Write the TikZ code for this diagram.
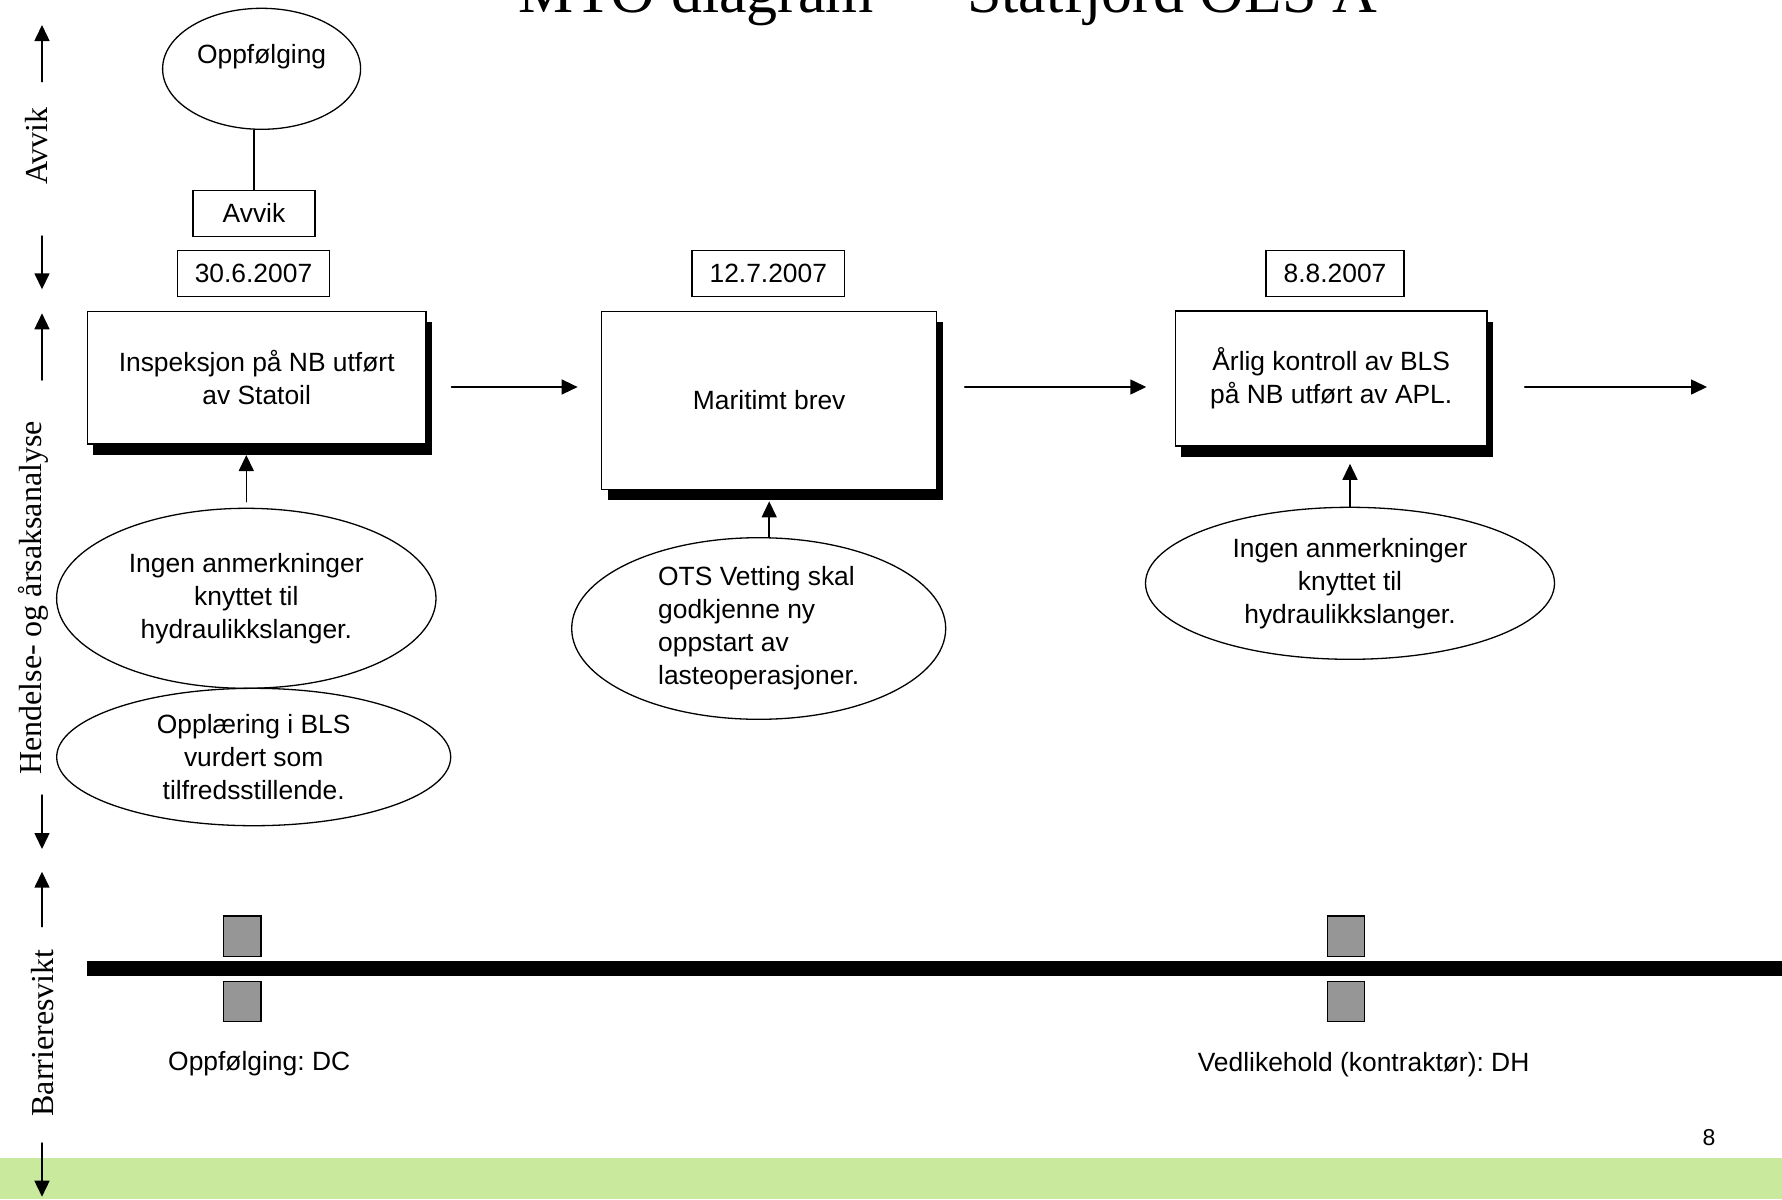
\documentclass[tikz,border=0pt]{standalone}
\usepackage{fontspec}
\setmainfont{Liberation Sans}
\newfontfamily\timesfont{Liberation Serif}
\usetikzlibrary{arrows.meta,shapes.geometric,shadows}
\definecolor{bandgreen}{RGB}{201,233,156}
\definecolor{blockgray}{RGB}{150,150,150}
\frenchspacing
\begin{document}
\begin{tikzpicture}[x=0.5pt,y=-0.5pt,cap=round,>={Triangle[length=8pt,width=7.5pt]}]
        % Styles
        \tikzstyle{body text}=[font=\fontsize{13.2}{16.5}\selectfont]
        \tikzstyle{event box}=[body text,draw,line width=0.65pt,fill=white,align=center,inner sep=0pt,drop shadow={shadow xshift=3pt,shadow yshift=-5.3pt,opacity=1,fill=black}]
        \tikzstyle{date box}=[body text,draw,line width=0.65pt,inner xsep=8.75pt,inner ysep=0pt,minimum height=23pt]
        \tikzstyle{cause}=[body text,draw,ellipse,line width=0.65pt,inner sep=0pt,align=center]
        \tikzstyle{flow arrow}=[->,line width=0.75pt]
        \tikzstyle{side label}=[font=\timesfont\fontsize{16}{19}\selectfont,rotate=90,anchor=base,inner sep=0pt]
        \tikzstyle{barrier block}=[draw,fill=blockgray,line width=0.6pt,minimum width=18.75pt,minimum height=20.35pt,inner sep=0pt]
        \useasboundingbox (0,0) rectangle (1782,1199);
        %The graphic
        \fill[bandgreen] (0,1158) rectangle (1782,1199);
        \node[font=\timesfont\fontsize{31}{37}\selectfont,anchor=base,inner sep=0pt] (title) at (948,12) {MTO diagram — Statfjord OLS A};
        %side axis
        \foreach \band/\ta/\tb/\tc/\td in {avvik/25/81.7/236/289.3,hendelse/313.3/380/795/849,barriere/871.7/926.7/1143/1196.7}{
            \coordinate (\band-up) at (42,\ta);
            \coordinate (\band-a) at (42,\tb);
            \coordinate (\band-b) at (42,\tc);
            \coordinate (\band-down) at (42,\td);
            \draw[flow arrow] (\band-a) -- (\band-up);
            \draw[flow arrow] (\band-b) -- (\band-down);
        }
        \node[side label] (lbl avvik) at (47.8,146) {Avvik};
        \node[side label] (lbl hendelse) at (41,598) {Hendelse- og årsaksanalyse};
        \node[side label] (lbl barriere) at (53.6,1033) {Barrieresvikt};
        %avvik
        \node[cause,minimum width=99pt,minimum height=60.5pt,text depth=15pt] (oppf) at (261.6,68.8) {Oppfølging};
        \node[body text,draw,line width=0.65pt,minimum width=61pt,minimum height=23pt,inner sep=0pt] (avvik) at (254,213.3) {Avvik};
        \draw[line width=0.65pt] (avvik.north) -- (avvik.north |- oppf.south);
        %dates
        \foreach \n/\x/\dato in {1/253.5/30.6.2007,2/768.3/12.7.2007,3/1335/8.8.2007}
            \node[date box] (date\n) at (\x,273.2) {\dato};
        %events
        \node[event box,minimum width=169.4pt,minimum height=66.2pt] (box1) at (256.7,377.8) {Inspeksjon på NB utført\\av Statoil};
        \node[event box,minimum width=167.5pt,minimum height=88.8pt] (box2) at (769.2,400.5) {Maritimt brev};
        \node[event box,minimum width=155.9pt,minimum height=67.5pt] (box3) at (1331.2,378.5) {Årlig kontroll av BLS\\på NB utført av APL.};
        \coordinate (flow) at (0,387);
        \coordinate (onward) at (1707,387);
        \draw[flow arrow,shorten <=12.4pt,shorten >=11.7pt] (box1.east |- flow) -- (box2.west |- flow);
        \draw[flow arrow,shorten <=13.7pt,shorten >=14.2pt] (box2.east |- flow) -- (box3.west |- flow);
        \draw[flow arrow,shorten <=18.5pt] (box3.east |- flow) -- (onward);
        %causes
        \node[cause,minimum width=189.7pt,minimum height=90pt] (ell1) at (246.3,598.3) {Ingen anmerkninger\\knyttet til\\hydraulikkslanger.};
        \node[cause,minimum width=197pt,minimum height=68.7pt] (ell2) at (253.7,757) {Opplæring i BLS\\vurdert som\\tilfredsstillende.};
        \node[cause,minimum width=187pt,minimum height=90.8pt,align=left] (ots) at (758.7,628.5) {OTS Vetting skal\\godkjenne ny\\oppstart av\\lasteoperasjoner.};
        \node[cause,minimum width=204.5pt,minimum height=76pt] (ell3) at (1350,583.3) {Ingen anmerkninger\\knyttet til\\hydraulikkslanger.};
        \draw[flow arrow,shorten <=3pt,shorten >=5.2pt] (ell1.north) -- (ell1.north |- box1.south);
        \draw[flow arrow,shorten >=5.7pt] (box2.south |- ots.north) -- (box2.south);
        \draw[flow arrow,shorten >=8.6pt] (ell3.north) -- (ell3.north |- box3.south);
        %barrier
        \fill (86.7,960.7) rectangle (1782,976.3);
        \foreach \n/\x in {1/242.2,2/1346}{
            \node[barrier block] (over\n) at (\x,936.3) {};
            \node[barrier block] (under\n) at (\x,1001.5) {};
        }
        \node[body text] (barrier1) at (259.2,1064) {Oppfølging: DC};
        \node[body text] (barrier2) at (1363.6,1065) {Vedlikehold (kontraktør): DH};
        \node[font=\fontsize{11.5}{14}\selectfont] (page) at (1709,1138) {8};
\end{tikzpicture}
\end{document}
